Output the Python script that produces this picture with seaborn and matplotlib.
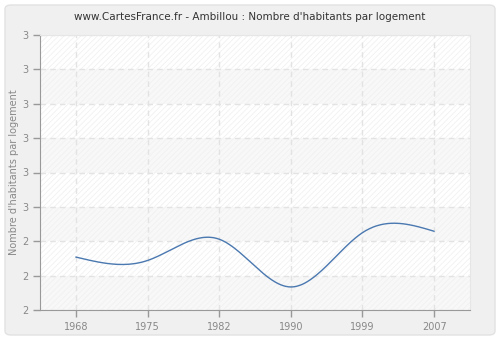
import numpy as np
import pandas as pd
import matplotlib
matplotlib.use("Agg")
import matplotlib.pyplot as plt
from matplotlib.patches import FancyBboxPatch, Rectangle
import seaborn as sns

years = ["1968", "1975", "1982", "1990", "1999", "2007"]
values = [2.354, 2.344, 2.406, 2.267, 2.425, 2.429]
ytick_values = [2.2, 2.3, 2.4, 2.5, 2.6, 2.7, 2.8, 2.9, 3.0]
ytick_labels = ["2", "2", "2", "3", "3", "3", "3", "3", "3"]
title = "www.CartesFrance.fr - Ambillou : Nombre d'habitants par logement"
ylabel = "Nombre d'habitants par logement"

sns.set_style("white")
plt.rcParams['font.family'] = ['DejaVu Sans']
plt.rcParams['hatch.linewidth'] = 0.6

def natural_spline(x, y, n=400):
    x = np.asarray(x, float); y = np.asarray(y, float)
    k = len(x)
    h = np.diff(x)
    A = np.zeros((k, k)); b = np.zeros(k)
    A[0, 0] = 1; A[-1, -1] = 1
    for i in range(1, k - 1):
        A[i, i - 1] = h[i - 1]; A[i, i] = 2 * (h[i - 1] + h[i]); A[i, i + 1] = h[i]
        b[i] = 3 * ((y[i + 1] - y[i]) / h[i] - (y[i] - y[i - 1]) / h[i - 1])
    c = np.linalg.solve(A, b)
    xs = np.linspace(x[0], x[-1], n)
    ys = np.empty_like(xs)
    for j, xv in enumerate(xs):
        i = min(np.searchsorted(x, xv, side='right') - 1, k - 2)
        dx = xv - x[i]
        bi = (y[i + 1] - y[i]) / h[i] - h[i] * (2 * c[i] + c[i + 1]) / 3
        di = (c[i + 1] - c[i]) / (3 * h[i])
        ys[j] = y[i] + bi * dx + c[i] * dx ** 2 + di * dx ** 3
    return xs, ys

fig = plt.figure(figsize=(5, 3.4), dpi=100)
fig.patch.set_facecolor("white")
panel = FancyBboxPatch((5 / 500, 5 / 340), 490 / 500, 330 / 340,
                       boxstyle="round,pad=0,rounding_size=0.012",
                       transform=fig.transFigure, facecolor="#f0f0f0",
                       edgecolor="#e2e2e2", linewidth=1, zorder=-10)
fig.patches.append(panel)

ax = fig.add_axes([40 / 500, 30 / 340, 430 / 500, 275 / 340])
ax.set_facecolor("white")

# alternating bands + hatch
for i in range(len(ytick_values) - 1):
    if i % 2 == 0:
        ax.axhspan(ytick_values[i], ytick_values[i + 1], color="#f8f8f8", zorder=0, lw=0)
ax.add_patch(Rectangle((0, 0), 1, 1, transform=ax.transAxes, facecolor="none",
                       edgecolor="#f1f1f1", hatch="//////", lw=0, zorder=0.5))

xpos = np.arange(len(years))
xs, ys = natural_spline(xpos, values)
df = pd.DataFrame({"x": xs, "y": ys})
sns.lineplot(data=df, x="x", y="y", ax=ax, color="#4a78b0", linewidth=1, zorder=3)

ax.set_xlim(-0.5, 5.5)
ax.set_ylim(2.2, 3.0)
ax.set_xticks(xpos)
ax.set_xticklabels(years)
ax.set_yticks(ytick_values)
ax.set_yticklabels(ytick_labels)
ax.grid(True, color="#e3e3e3", linestyle=(0, (4, 3)), linewidth=1)
ax.set_axisbelow(True)
for gl in ax.get_xgridlines() + ax.get_ygridlines():
    gl.set_zorder(1)

for s in ["top", "right"]:
    ax.spines[s].set_color("#e6e6e6")
for s in ["left", "bottom"]:
    ax.spines[s].set_color("#999999")
ax.tick_params(axis="both", colors="#999999", labelcolor="#888888", labelsize=7,
               length=5, width=1, direction="out", left=True, bottom=True)
ax.set_xlabel("")
ax.set_ylabel(ylabel, color="#888888", fontsize=7)
ax.yaxis.set_label_coords(-0.048, 0.5)
fig.text(0.5, 1 - 17 / 340, title, ha="center", va="center", fontsize=7.5, color="#333333")

fig.savefig("out.png", dpi=100, facecolor=fig.get_facecolor())
